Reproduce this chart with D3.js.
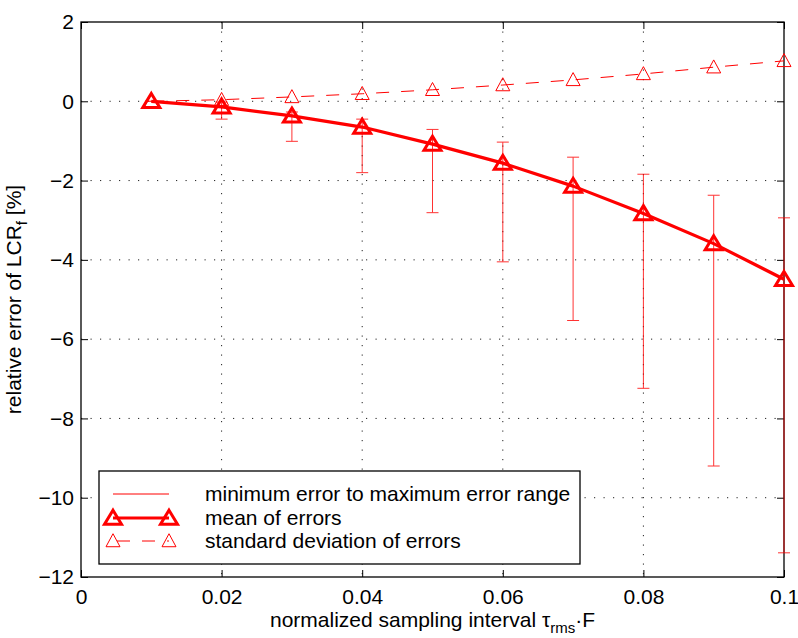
<!DOCTYPE html>
<html>
<head>
<meta charset="utf-8">
<script src="https://cdn.jsdelivr.net/npm/d3@7/dist/d3.min.js"></script>
<style>
  body { margin: 0; background: #fff; }
  svg { display: block; font-family: "Liberation Sans", Arial, Helvetica, sans-serif; }
  .grid line { stroke: #222; stroke-width: 1; stroke-dasharray: 1.2 8.3; }
  .axis path { display: none; }
  .axis line { stroke: #000; stroke-width: 1; }
  .axis text { font-size: 21px; fill: #000; }
</style>
</head>
<body>
<svg id="chart" width="798" height="638"></svg>
<script>
// data
const xVals   = [0.01, 0.02, 0.03, 0.04, 0.05, 0.06, 0.07, 0.08, 0.09, 0.1];
const meanErr = [0, -0.14, -0.37, -0.65, -1.08, -1.56, -2.14, -2.83, -3.59, -4.49];
const maxErr  = [0, -0.02, -0.27, -0.45, -0.71, -1.03, -1.41, -1.84, -2.37, -2.94];
const minErr  = [0, -0.45, -1.01, -1.80, -2.81, -4.05, -5.53, -7.24, -9.20, -11.39];
const stdErr  = [0, 0.04, 0.11, 0.19, 0.29, 0.41, 0.54, 0.69, 0.86, 1.02];
const xTicks  = [0, 0.02, 0.04, 0.06, 0.08, 0.1];
const yTicks  = [2, 0, -2, -4, -6, -8, -10, -12];
const legendLabels = ['minimum error to maximum error range', 'mean of errors', 'standard deviation of errors'];

const RED = '#ff0000';
const FS = 21;

const svg = d3.select('#chart');
const margin = { left: 81, right: 14, top: 22, bottom: 61 };
const W = 798, H = 638;
const x = d3.scaleLinear().domain([0, 0.1]).range([margin.left, W - margin.right]);
const y = d3.scaleLinear().domain([-12, 2]).range([H - margin.bottom, margin.top]);

const fmtX = d => d === 0 ? '0' : d3.format('.2~f')(d);
const fmtY = d => d < 0 ? '\u2212' + Math.abs(d) : String(d);

// grid
const grid = svg.append('g').attr('class', 'grid');
grid.selectAll('.gx').data(xTicks.filter(d => d > 0 && d < 0.1)).join('line')
  .attr('x1', d => x(d)).attr('x2', d => x(d)).attr('y1', y(2)).attr('y2', y(-12));
grid.selectAll('.gy').data(yTicks.filter(d => d < 2 && d > -12)).join('line')
  .attr('class', 'gy')
  .attr('x1', x(0)).attr('x2', x(0.1)).attr('y1', d => y(d)).attr('y2', d => y(d));

// axes, ticks pointing inwards
svg.append('g').attr('class', 'axis').attr('transform', `translate(0,${y(-12)})`)
  .call(d3.axisBottom(x).tickValues(xTicks).tickSizeInner(-7).tickSizeOuter(0).tickPadding(12).tickFormat(fmtX));

svg.append('g').attr('class', 'axis').attr('transform', `translate(${x(0)},0)`)
  .call(d3.axisLeft(y).tickValues(yTicks).tickSizeInner(-7).tickSizeOuter(0).tickPadding(7).tickFormat(fmtY));

svg.append('g').attr('class', 'axis').attr('transform', `translate(0,${y(2)})`)
  .call(d3.axisTop(x).tickValues(xTicks).tickSizeInner(-7).tickSizeOuter(0).tickFormat(''));
svg.append('g').attr('class', 'axis').attr('transform', `translate(${x(0.1)},0)`)
  .call(d3.axisRight(y).tickValues(yTicks).tickSizeInner(-7).tickSizeOuter(0).tickFormat(''));

svg.append('rect')
  .attr('x', x(0)).attr('y', y(2))
  .attr('width', x(0.1) - x(0)).attr('height', y(-12) - y(2))
  .attr('fill', 'none').attr('stroke', '#000').attr('stroke-width', 1.3);

// matlab-like triangle marker
const tri = (w, h) => ({
  draw(ctx) {
    ctx.moveTo(0, -0.56 * h);
    ctx.lineTo(w / 2, 0.44 * h);
    ctx.lineTo(-w / 2, 0.44 * h);
    ctx.closePath();
  }
});
const bigTri = d3.symbol().type(tri(17, 14))();
const smallTri = d3.symbol().type(tri(14, 13))();

const rows = xVals.map((v, i) => ({ x: v, mean: meanErr[i], lo: minErr[i], hi: maxErr[i], sd: stdErr[i] }));

// error bars
const eb = svg.append('g').attr('stroke', RED).attr('stroke-width', 1).attr('opacity', 0.8);
eb.selectAll('.v').data(rows).join('line')
  .attr('x1', d => x(d.x)).attr('x2', d => x(d.x)).attr('y1', d => y(d.hi)).attr('y2', d => y(d.lo));
eb.selectAll('.c1').data(rows).join('line').attr('class', 'c1')
  .attr('x1', d => x(d.x) - 6).attr('x2', d => x(d.x) + 6).attr('y1', d => y(d.hi)).attr('y2', d => y(d.hi));
eb.selectAll('.c2').data(rows).join('line').attr('class', 'c2')
  .attr('x1', d => x(d.x) - 6).attr('x2', d => x(d.x) + 6).attr('y1', d => y(d.lo)).attr('y2', d => y(d.lo));

// mean of errors
const meanLine = d3.line().x(d => x(d.x)).y(d => y(d.mean));
svg.append('path').datum(rows).attr('d', meanLine)
  .attr('fill', 'none').attr('stroke', RED).attr('stroke-width', 3.2).attr('stroke-linejoin', 'round');
svg.append('g').selectAll('path').data(rows).join('path')
  .attr('d', bigTri).attr('transform', d => `translate(${x(d.x)},${y(d.mean)})`)
  .attr('fill', 'none').attr('stroke', RED).attr('stroke-width', 3);

// standard deviation
const sdLine = d3.line().x(d => x(d.x)).y(d => y(d.sd));
svg.append('path').datum(rows).attr('d', sdLine)
  .attr('fill', 'none').attr('stroke', RED).attr('stroke-width', 1).attr('stroke-dasharray', '13 12');
svg.append('g').selectAll('path').data(rows).join('path')
  .attr('d', smallTri).attr('transform', d => `translate(${x(d.x)},${y(d.sd)})`)
  .attr('fill', 'none').attr('stroke', RED).attr('stroke-width', 1);

// axis labels
const xl = svg.append('text')
  .attr('x', (x(0) + x(0.1)) / 2).attr('y', 627)
  .attr('text-anchor', 'middle').attr('font-size', FS);
xl.append('tspan').text('normalized sampling interval \u03C4');
xl.append('tspan').attr('font-size', 15).attr('dy', 6).text('rms');
xl.append('tspan').attr('dy', -6).text('\u00B7F');

const yl = svg.append('text')
  .attr('transform', `translate(21,${(y(2) + y(-12)) / 2}) rotate(-90)`)
  .attr('text-anchor', 'middle').attr('font-size', FS);
yl.append('tspan').text('relative error of LCR');
yl.append('tspan').attr('font-size', 15).attr('dy', 6).text('f');
yl.append('tspan').attr('dy', -6).text(' [%]');

// legend
const lg = svg.append('g');
lg.append('rect').attr('x', 99).attr('y', 471).attr('width', 481).attr('height', 93)
  .attr('fill', '#fff').attr('stroke', '#000').attr('stroke-width', 1.3);
const rowY = [494, 518, 541];
const lx1 = 113, lx2 = 169;
lg.append('line').attr('x1', lx1).attr('x2', lx2).attr('y1', rowY[0]).attr('y2', rowY[0])
  .attr('stroke', RED).attr('stroke-width', 1);
lg.append('line').attr('x1', lx1).attr('x2', lx2).attr('y1', rowY[1]).attr('y2', rowY[1])
  .attr('stroke', RED).attr('stroke-width', 3.2);
lg.selectAll('.m1').data([lx1, lx2]).join('path').attr('class', 'm1')
  .attr('d', bigTri).attr('transform', d => `translate(${d},${rowY[1]})`)
  .attr('fill', 'none').attr('stroke', RED).attr('stroke-width', 3);
lg.append('line').attr('x1', lx1).attr('x2', lx2).attr('y1', rowY[2]).attr('y2', rowY[2])
  .attr('stroke', RED).attr('stroke-width', 1).attr('stroke-dasharray', '13 12').attr('stroke-dashoffset', -4);
lg.selectAll('.m2').data([lx1, lx2]).join('path').attr('class', 'm2')
  .attr('d', smallTri).attr('transform', d => `translate(${d},${rowY[2]})`)
  .attr('fill', 'none').attr('stroke', RED).attr('stroke-width', 1);
lg.selectAll('text').data(legendLabels).join('text')
  .attr('x', 205).attr('y', (d, i) => rowY[i] + 7)
  .attr('font-size', FS).text(d => d);
</script>
</body>
</html>
